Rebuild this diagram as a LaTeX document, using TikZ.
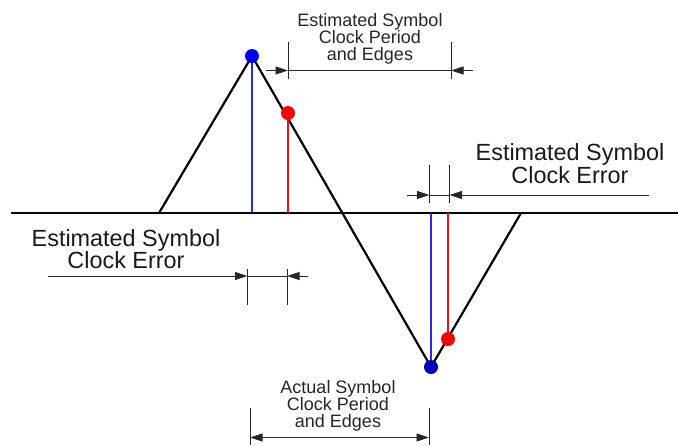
\documentclass[tikz,border=0pt]{standalone}
\usepackage{fontspec}
\setmainfont{Liberation Sans}
\usetikzlibrary{arrows.meta}
\definecolor{dotblue}{RGB}{0,0,245}
\definecolor{dotnavy}{RGB}{0,0,185}
\definecolor{dotred}{RGB}{250,0,0}
\definecolor{lineblue}{RGB}{40,40,235}
\definecolor{linered}{RGB}{225,20,20}
\tikzset{
  axisline/.style={line width=1.3pt, black},
  waveline/.style={line width=2.2pt, black, line join=miter},
  tickline/.style={line width=0.9pt, black!85},
  dimline/.style={line width=0.9pt, black!85},
  dimarrow/.style={line width=0.9pt, black!85, -{Triangle[length=12.5pt,width=8pt]}},
  dimboth/.style={line width=0.9pt, black!85, {Triangle[length=12.5pt,width=8pt]}-{Triangle[length=12.5pt,width=8pt]}},
  markline/.style={line width=1.3pt},
  dotmark/.style={circle, inner sep=0pt, minimum size=14pt},
  smalllabel/.style={font=\fontsize{18}{16.8}\selectfont, align=center, inner sep=0pt, text=black!85},
  biglabel/.style={font=\fontsize{23.4}{22.5}\selectfont, align=center, inner sep=0pt, text=black!90}
}
\begin{document}
\begin{tikzpicture}[x=1pt, y=-1pt]
\useasboundingbox (0,0) rectangle (678,445);

% axis
\coordinate (axL) at (11,213);
\coordinate (axR) at (678,213);
\draw[axisline] (axL) -- (axR);

% triangle wave
\coordinate (w0) at (159,213);
\coordinate (wpk) at (252,56);
\coordinate (wtr) at (431,367);
\coordinate (w1) at (521,213);
\draw[waveline] (w0) -- (wpk) -- (wtr) -- (w1);

% marker lines
\coordinate (bA) at (252,213);
\coordinate (rA) at (288,213);
\coordinate (bB) at (431,213);
\coordinate (rB) at (448,213);
\coordinate (rp1) at (288,113);
\coordinate (rp2) at (448,339);
\draw[markline, lineblue] (wpk) -- (bA);
\draw[markline, linered] (rp1) -- (rA);
\draw[markline, lineblue] (wtr) -- (bB);
\draw[markline, linered] (rp2) -- (rB);
\node[dotmark, fill=dotblue] (bdot1) at (wpk) {};
\node[dotmark, fill=dotnavy] (bdot2) at (wtr) {};
\node[dotmark, fill=dotred] (rdot1) at (rp1) {};
\node[dotmark, fill=dotred] (rdot2) at (rp2) {};

% top dimension: estimated period
\coordinate (t1a) at (288,42); \coordinate (t1b) at (288,79);
\coordinate (t2a) at (451,42); \coordinate (t2b) at (451,79);
\draw[tickline] (t1a) -- (t1b);
\draw[tickline] (t2a) -- (t2b);
\coordinate (tl) at (288,70.5); \coordinate (tr) at (451,70.5);
\coordinate (tlo) at (266,70.5); \coordinate (tro) at (473,70.5);
\draw[dimline] (tl) -- (tr);
\draw[dimarrow] (tlo) -- (tl);
\draw[dimarrow] (tro) -- (tr);
\node[smalllabel, anchor=base] (ttext) at (370,60) {Estimated Symbol\\Clock Period\\and Edges};

% right dimension: clock error
\coordinate (r1a) at (429.5,165); \coordinate (r1b) at (429.5,203);
\coordinate (r2a) at (449.5,165); \coordinate (r2b) at (449.5,203);
\draw[tickline] (r1a) -- (r1b);
\draw[tickline] (r2a) -- (r2b);
\coordinate (rl) at (429.5,195); \coordinate (rr) at (449.5,195);
\coordinate (rlo) at (407,195); \coordinate (rro) at (649,195);
\draw[dimline] (rl) -- (rr);
\draw[dimarrow] (rlo) -- (rl);
\draw[dimarrow] (rro) -- (rr);
\node[biglabel, anchor=base] (rtext) at (570,183) {Estimated Symbol\\Clock Error};

% left dimension: clock error
\coordinate (l1a) at (247.5,269); \coordinate (l1b) at (247.5,305);
\coordinate (l2a) at (287,269); \coordinate (l2b) at (287,305);
\draw[tickline] (l1a) -- (l1b);
\draw[tickline] (l2a) -- (l2b);
\coordinate (ll) at (247.5,276); \coordinate (lr) at (287,276);
\coordinate (llo) at (48,276); \coordinate (lro) at (308,276);
\draw[dimline] (ll) -- (lr);
\draw[dimarrow] (llo) -- (ll);
\draw[dimarrow] (lro) -- (lr);
\node[biglabel, anchor=base] (ltext) at (126,268.5) {Estimated Symbol\\Clock Error};

% bottom dimension: actual period
\coordinate (b1a) at (250,408); \coordinate (b1b) at (250,445);
\coordinate (b2a) at (429,408); \coordinate (b2b) at (429,445);
\draw[tickline] (b1a) -- (b1b);
\draw[tickline] (b2a) -- (b2b);
\coordinate (bl) at (250,437.5); \coordinate (br) at (429,437.5);
\draw[dimboth] (bl) -- (br);
\node[smalllabel, anchor=base] (btext) at (338,427) {Actual Symbol\\Clock Period\\and Edges};
\end{tikzpicture}
\end{document}
